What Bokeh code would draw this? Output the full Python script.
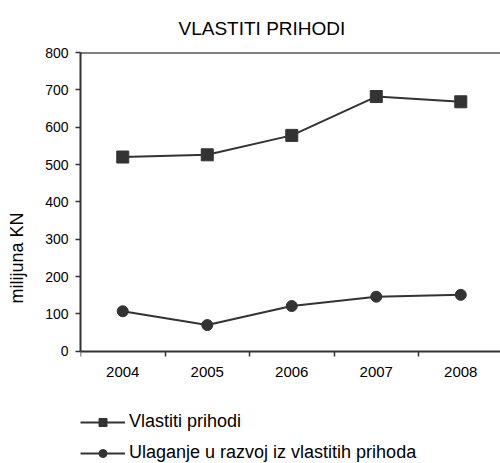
from bokeh.plotting import figure
from bokeh.models import Range1d, FixedTicker, Legend, LegendItem, Span
from bokeh.embed import file_html
from bokeh.resources import INLINE

years = ["2004", "2005", "2006", "2007", "2008"]
vlastiti_prihodi = [520, 526, 578, 682, 668]
ulaganje = [107, 70, 121, 146, 151]
y_ticks = [0, 100, 200, 300, 400, 500, 600, 700, 800]
title_text = "VLASTITI PRIHODI"
y_label = "milijuna KN"
label_1 = "Vlastiti prihodi"
label_2 = "Ulaganje u razvoj iz vlastitih prihoda"

FONT = "Liberation Sans"
DARK = "#333333"

xs = [i + 0.5 for i in range(len(years))]
bounds = [float(i) for i in range(len(years) + 1)]

p = figure(width=500, height=463, output_backend="svg", toolbar_location=None,
           x_range=Range1d(0, 4.97), y_range=Range1d(-300.8, 800),
           min_border_left=80, min_border_right=0, min_border_top=52,
           min_border_bottom=0)
p.outline_line_color = None
p.xgrid.visible = False
p.ygrid.visible = False

p.title.text = title_text
p.title.text_font = FONT
p.title.text_font_size = "19px"
p.title.text_font_style = "normal"
p.title.text_color = "black"
p.title.align = "left"
p.title.offset = 98
p.title.standoff = 27

# y axis
ya = p.yaxis[0]
ya.ticker = FixedTicker(ticks=y_ticks)
ya.bounds = (0, 800)
ya.axis_line_color = DARK
ya.axis_line_width = 2
ya.major_tick_line_color = DARK
ya.major_tick_line_width = 1.5
ya.major_tick_out = 5
ya.major_tick_in = 0
ya.minor_tick_line_color = None
ya.major_label_text_font = FONT
ya.major_label_text_font_size = "14px"
ya.major_label_text_color = "black"
ya.major_label_standoff = 7
ya.axis_label = y_label
ya.axis_label_text_font = FONT
ya.axis_label_text_font_size = "18px"
ya.axis_label_text_font_style = "normal"
ya.axis_label_text_color = "black"
ya.axis_label_standoff = 15

# x axis, drawn at y = 0
xa = p.xaxis[0]
xa.fixed_location = 0
xa.ticker = FixedTicker(ticks=xs, minor_ticks=bounds)
xa.major_label_overrides = {x: y for x, y in zip(xs, years)}
xa.axis_line_color = DARK
xa.axis_line_width = 2
xa.major_tick_line_color = None
xa.minor_tick_line_color = DARK
xa.minor_tick_line_width = 1.5
xa.minor_tick_out = 5
xa.minor_tick_in = 0
xa.major_tick_out = 5
xa.major_tick_in = 0
xa.major_label_text_font = FONT
xa.major_label_text_font_size = "15px"
xa.major_label_text_color = "black"
xa.major_label_standoff = 11

p.add_layout(Span(location=800, dimension="width", line_color="black", line_width=2))

l1 = p.line(xs, vlastiti_prihodi, line_color=DARK, line_width=2)
s1 = p.scatter(xs, vlastiti_prihodi, marker="square", size=12, fill_color=DARK, line_color=DARK)
l2 = p.line(xs, ulaganje, line_color=DARK, line_width=2)
s2 = p.scatter(xs, ulaganje, marker="circle", size=11, fill_color=DARK, line_color=DARK)

legend = Legend(items=[LegendItem(label=label_1, renderers=[l1, s1]),
                       LegendItem(label=label_2, renderers=[l2, s2])],
                location=(0, 0), orientation="vertical",
                glyph_width=45, glyph_height=20, label_height=20,
                label_standoff=4, spacing=10, padding=0, margin=0,
                border_line_color=None, background_fill_alpha=0,
                label_text_font=FONT, label_text_font_size="18px",
                label_text_color="black")
p.add_layout(legend, "center")

open("out.html", "w").write(file_html(p, INLINE))
